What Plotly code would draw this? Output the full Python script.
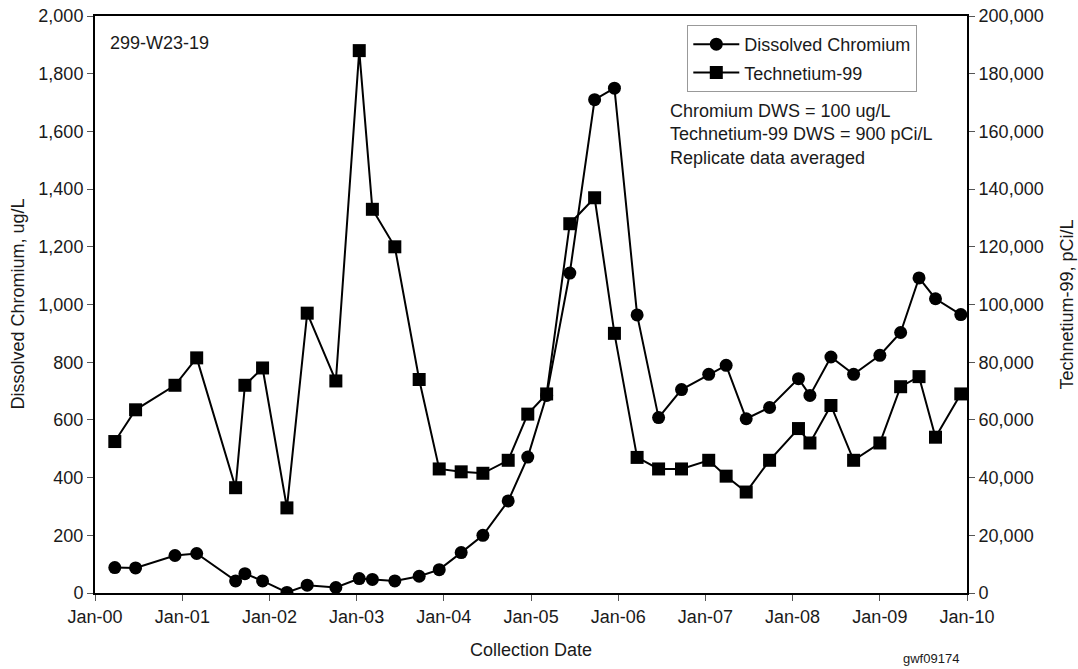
import plotly.graph_objects as go

dates = ["2000-03-24", "2000-06-19", "2000-12-01", "2001-03-02", "2001-08-12", "2001-09-20",
         "2001-12-03", "2002-03-15", "2002-06-08", "2002-10-06", "2003-01-12", "2003-03-08",
         "2003-06-10", "2003-09-20", "2003-12-13", "2004-03-14", "2004-06-13", "2004-09-27",
         "2004-12-18", "2005-03-07", "2005-06-12", "2005-09-24", "2005-12-16", "2006-03-21",
         "2006-06-19", "2006-09-23", "2007-01-15", "2007-03-29", "2007-06-21", "2007-09-27",
         "2008-01-26", "2008-03-14", "2008-06-10", "2008-09-13", "2009-01-01", "2009-03-29",
         "2009-06-14", "2009-08-22", "2009-12-06"]

chromium = [88, 87, 130, 137, 42, 67, 42, 2, 27, 19, 50, 47, 42, 58, 81, 140, 200, 319,
            471, 685, 1109, 1710, 1750, 964, 608, 705, 758, 789, 604, 643, 743, 685, 818,
            758, 824, 903, 1092, 1020, 965]

technetium = [52500, 63500, 72000, 81500, 36500, 72000, 78000, 29500, 97000, 73500,
              188000, 133000, 120000, 74000, 43000, 42000, 41500, 46000, 62000, 69000,
              128000, 137000, 90000, 47000, 43000, 43000, 46000, 40500, 35000, 46000,
              57000, 52000, 65000, 46000, 52000, 71500, 75000, 54000, 69000]

year_ticks = ["2000-01-01", "2001-01-01", "2002-01-01", "2003-01-01", "2004-01-01",
              "2005-01-01", "2006-01-01", "2007-01-01", "2008-01-01", "2009-01-01",
              "2010-01-01"]
year_labels = ["Jan-00", "Jan-01", "Jan-02", "Jan-03", "Jan-04", "Jan-05", "Jan-06",
               "Jan-07", "Jan-08", "Jan-09", "Jan-10"]

FONT = "Liberation Sans, Arial, sans-serif"
INK = "#1a1a1a"

W, H = 1078, 669
L, R, T, B = 95, 111, 16, 76
PW, PH = W - L - R, H - T - B


def px(xw):
    return (xw - L) / PW


def py(yw):
    return 1 - (yw - T) / PH


fig = go.Figure()
fig.add_trace(go.Scatter(
    x=dates, y=chromium, name="Dissolved Chromium", mode="lines+markers",
    legendgroup="a",
    line=dict(color="black", width=2),
    marker=dict(symbol="circle", size=13, color="black"),
    yaxis="y"))
fig.add_trace(go.Scatter(
    x=dates, y=technetium, name="Technetium-99", mode="lines+markers",
    legendgroup="b",
    line=dict(color="black", width=2),
    marker=dict(symbol="square", size=13, color="black"),
    yaxis="y2"))

axis_common = dict(showgrid=False, zeroline=False, showline=True, linecolor="black",
                   linewidth=2, ticks="outside", ticklen=6, tickwidth=1, tickcolor="#555",
                   automargin=False,
                   tickfont=dict(family=FONT, size=18, color=INK))

fig.update_layout(
    width=W, height=H,
    margin=dict(l=L, r=R, t=T, b=B, autoexpand=False),
    paper_bgcolor="white", plot_bgcolor="white",
    font=dict(family=FONT, size=18, color=INK),
    showlegend=True,
    legend=dict(x=px(687.3), y=py(25), xanchor="left", yanchor="top",
                bordercolor="#999", borderwidth=1, bgcolor="white",
                font=dict(family=FONT, size=18, color=INK),
                traceorder="grouped", tracegroupgap=2, itemwidth=46),
    xaxis=dict(type="date", range=["2000-01-01", "2010-01-01"],
               tickvals=year_ticks, ticktext=year_labels, mirror=True,
               **axis_common),
    yaxis=dict(range=[0, 2000], dtick=200, tickformat=",", **axis_common),
    yaxis2=dict(range=[0, 200000], dtick=20000, tickformat=",", overlaying="y",
                side="right", **axis_common),
    annotations=[
        dict(text="Dissolved Chromium, ug/L", x=px(17), y=0.5, xref="paper", yref="paper",
             showarrow=False, textangle=-90, font=dict(size=18, color=INK, family=FONT),
             xanchor="center", yanchor="middle"),
        dict(text="299-W23-19", x=px(108), y=py(43.3), xref="paper", yref="paper",
             showarrow=False, xanchor="left", yanchor="middle",
             font=dict(size=18, color=INK, family=FONT)),
        dict(text="Chromium DWS = 100 ug/L<br>Technetium-99 DWS = 900 pCi/L<br>Replicate data averaged",
             x=px(668), y=py(99), xref="paper", yref="paper", showarrow=False,
             xanchor="left", yanchor="top", align="left",
             font=dict(size=18, color=INK, family=FONT)),
        dict(text="Collection Date", x=0.5, y=py(650), xref="paper", yref="paper",
             showarrow=False, xanchor="center", yanchor="middle",
             font=dict(size=18, color=INK, family=FONT)),
        dict(text="Technetium-99, pCi/L", x=px(1066), y=0.5, xref="paper", yref="paper",
             showarrow=False, textangle=-90, xanchor="center", yanchor="middle",
             font=dict(size=18, color=INK, family=FONT)),
        dict(text="gwf09174", x=px(930.5), y=py(658), xref="paper", yref="paper",
             showarrow=False, xanchor="center", yanchor="middle",
             font=dict(size=13, color=INK, family=FONT)),
    ],
)

fig.write_html("out.html",
               config={"displayModeBar": False},
               post_script="document.body.style.margin='0';document.body.style.overflow='hidden';")
